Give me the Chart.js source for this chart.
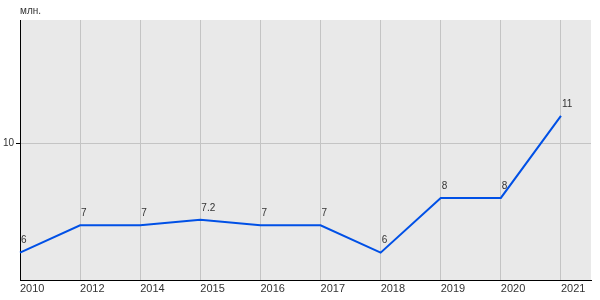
<!DOCTYPE html>
<html>
<head>
<meta charset="utf-8">
<script src="https://cdn.jsdelivr.net/npm/chart.js@4"></script>
<style>
  html, body { margin: 0; padding: 0; background: #fff; }
  #wrap { width: 600px; height: 300px; position: relative; }
</style>
</head>
<body>
<div id="wrap"><canvas id="chart"></canvas></div>
<script>
// data
const years = ['2010', '2012', '2014', '2015', '2016', '2017', '2018', '2019', '2020', '2021'];
const values = [6, 7, 7, 7.2, 7, 7, 6, 8, 8, 11];
const yTicks = [10];
const unitLabel = 'млн.';

const points = values.map((v, i) => ({ x: i, y: v }));

// gray plot area + unit label + value labels
const decor = {
    id: 'decor',
    beforeDraw(chart) {
        const { ctx, chartArea: a } = chart;
        ctx.save();
        ctx.fillStyle = '#e9e9e9';
        ctx.fillRect(a.left, a.top, a.right - a.left, a.bottom - a.top);
        ctx.restore();
    },
    afterDraw(chart) {
        const { ctx, chartArea: a } = chart;
        ctx.save();
        ctx.font = '10px "Liberation Sans", Arial, sans-serif';
        ctx.fillStyle = '#333';
        ctx.textAlign = 'left';
        ctx.textBaseline = 'bottom';
        ctx.fillText(unitLabel, a.left, a.top - 4);
        const meta = chart.getDatasetMeta(0);
        meta.data.forEach((pt, i) => {
            ctx.fillText(String(values[i]), pt.x + 1, pt.y - 7);
        });
        ctx.restore();
    }
};

new Chart(document.getElementById('chart'), {
    type: 'line',
    data: {
        datasets: [{
            data: points,
            borderColor: '#0050e6',
            borderWidth: 2,
            pointRadius: 0,
            tension: 0,
            clip: false
        }]
    },
    options: {
        responsive: true,
        maintainAspectRatio: false,
        animation: false,
        layout: { padding: { top: 20, right: 9, left: 0, bottom: 0 } },
        plugins: {
            legend: { display: false },
            tooltip: { enabled: false }
        },
        scales: {
            x: {
                type: 'linear',
                min: 0,
                max: 9.5,
                afterBuildTicks: s => { s.ticks = years.map((y, i) => ({ value: i })); },
                afterFit: s => { s.height = 20; },
                grid: { color: '#c4c4c4', lineWidth: 1, tickLength: 0 },
                border: { color: '#000', width: 1 },
                ticks: {
                    align: 'start',
                    padding: 2,
                    color: '#333',
                    font: { family: '"Liberation Sans", Arial, sans-serif', size: 11 },
                    maxRotation: 0,
                    autoSkip: false,
                    callback: v => years[v]
                }
            },
            y: {
                min: 5,
                max: 14.5,
                afterBuildTicks: s => { s.ticks = yTicks.map(v => ({ value: v })); },
                afterFit: s => { s.width = 20; },
                grid: { color: '#c4c4c4', lineWidth: 1, tickLength: 4, tickColor: '#000' },
                border: { color: '#000', width: 1 },
                ticks: {
                    padding: 2,
                    color: '#333',
                    font: { family: '"Liberation Sans", Arial, sans-serif', size: 10 }
                }
            }
        }
    },
    plugins: [decor]
});
</script>
</body>
</html>
